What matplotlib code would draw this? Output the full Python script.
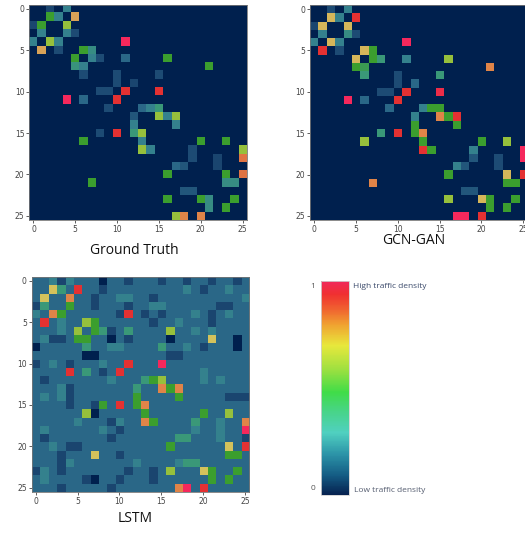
import numpy as np
import matplotlib as mpl
import matplotlib.pyplot as plt
from matplotlib.colors import LinearSegmentedColormap, Normalize

n = 26
titles = ['Ground Truth', 'GCN-GAN', 'LSTM']
ticks = [0, 5, 10, 15, 20, 25]

# (row, col, value) of the non-zero cells
gt_cells = [
    (0, 2, .1), (0, 4, .3),
    (1, 2, .5), (1, 3, .3), (1, 5, .75),
    (2, 0, .1), (2, 1, .5), (2, 4, .6),
    (3, 1, .3), (3, 4, .3), (3, 5, .12),
    (4, 0, .3), (4, 2, .6), (4, 3, .3), (4, 11, 1.0),
    (5, 1, .75), (5, 3, .12), (5, 6, .5), (5, 7, .35),
    (6, 5, .5), (6, 7, .3), (6, 8, .12), (6, 11, .2), (6, 16, .5),
    (7, 5, .38), (7, 6, .3), (7, 21, .5),
    (8, 6, .12), (8, 10, .12), (8, 15, .12),
    (9, 10, .12), (9, 12, .1),
    (10, 8, .12), (10, 9, .12), (10, 11, .9), (10, 15, .9),
    (11, 4, 1.0), (11, 6, .2), (11, 10, .9),
    (12, 9, .12), (12, 13, .2), (12, 14, .3), (12, 15, .4),
    (13, 12, .15), (13, 15, .6), (13, 16, .3), (13, 17, .6),
    (14, 12, .3), (14, 17, .3),
    (15, 8, .12), (15, 10, .9), (15, 12, .4), (15, 13, .6),
    (16, 6, .5), (16, 13, .3), (16, 20, .5), (16, 23, .5),
    (17, 13, .6), (17, 14, .3), (17, 19, .12), (17, 25, .6),
    (18, 19, .12), (18, 22, .1), (18, 25, .82),
    (19, 17, .2), (19, 18, .15), (19, 22, .1),
    (20, 16, .5), (20, 23, .5), (20, 25, .82),
    (21, 7, .5), (21, 23, .35), (21, 24, .35),
    (22, 18, .15), (22, 19, .15),
    (23, 16, .5), (23, 20, .5), (23, 21, .35), (23, 24, .5),
    (24, 21, .35), (24, 23, .5),
    (25, 17, .6), (25, 18, .8), (25, 20, .8),
]

gcn_cells = [
    (0, 2, .12), (0, 4, .3),
    (1, 2, .72), (1, 3, .3), (1, 5, .9),
    (2, 0, .1), (2, 1, .72), (2, 4, .72),
    (3, 1, .3), (3, 4, .35), (3, 5, .12),
    (4, 0, .3), (4, 2, .72), (4, 3, .3), (4, 11, 1.0),
    (5, 1, .9), (5, 3, .12), (5, 6, .72), (5, 7, .5),
    (6, 5, .72), (6, 7, .5), (6, 8, .4), (6, 11, .3), (6, 16, .6),
    (7, 5, .5), (7, 6, .45), (7, 21, .8),
    (8, 6, .4), (8, 10, .12), (8, 15, .4),
    (9, 10, .12), (9, 12, .2),
    (10, 8, .12), (10, 9, .12), (10, 11, .9), (10, 15, .95),
    (11, 4, 1.0), (11, 6, .2), (11, 10, .9),
    (12, 9, .2), (12, 13, .3), (12, 14, .5), (12, 15, .5),
    (13, 12, .3), (13, 15, .8), (13, 16, .5), (13, 17, .9),
    (14, 12, .5), (14, 17, .5),
    (15, 8, .4), (15, 10, .9), (15, 12, .5), (15, 13, .8),
    (16, 6, .6), (16, 13, .5), (16, 20, .5), (16, 23, .6),
    (17, 13, .9), (17, 14, .5), (17, 19, .3), (17, 25, 1.0),
    (18, 19, .15), (18, 22, .12), (18, 25, 1.0),
    (19, 17, .3), (19, 18, .15), (19, 22, .12),
    (20, 16, .5), (20, 23, .72), (20, 25, .9),
    (21, 7, .8), (21, 23, .5), (21, 24, .5),
    (22, 18, .15), (22, 19, .15),
    (23, 16, .6), (23, 20, .72), (23, 21, .5), (23, 24, .5),
    (24, 21, .5), (24, 23, .5),
    (25, 17, 1.0), (25, 18, 1.0), (25, 20, .9),
]

# LSTM output, one char per cell, level 0..a -> 0..1
lstm_rows = [
    '22313222022122212212212212',
    '22742922122222222232122322',
    '27228221223322122222222223',
    '14225221222122332222221122',
    '32852222221921212223212322',
    '29232265222222122322212222',
    '22232625412422226223232222',
    '23112552202122220222272202',
    '02222242233222242232122202',
    '22222200222222221122222222',
    '123212223229222a2222222222',
    '22229242129222222222322222',
    '21222222232224562222323222',
    '22231222222242285822222222',
    '23231222222252222522222111',
    '22221221529258222222222222',
    '22222260222225222222522622',
    '22222322213228522224223228',
    '2322222232122222222322322a',
    '21222222212222222442223221',
    '22321122222222225222222729',
    '22212227221222222222222552',
    '22213222222232222344222222',
    '13212222222122126222752252',
    '23222210221222122222252522',
    '222122222122222228a2922222',
]


def to_grid(cells):
    m = np.zeros((n, n))
    for r, c, v in cells:
        m[r, c] = v
    return m


gt = to_grid(gt_cells)
gcn = to_grid(gcn_cells)
lstm = np.array([[int(ch, 11) / 10 for ch in row] for row in lstm_rows])

heat_cmap = LinearSegmentedColormap.from_list('heat', [
    (0.0, '#00204e'), (0.1, '#1b4670'), (0.2, '#2a6787'), (0.3, '#35828e'),
    (0.4, '#3a9878'), (0.5, '#3a9e2e'), (0.6, '#96c03c'), (0.7, '#d4c45c'),
    (0.75, '#d8a458'), (0.8, '#e08448'), (0.9, '#e43232'), (1.0, '#f5285c')])

bar_cmap = LinearSegmentedColormap.from_list('bar', [
    (0.0, '#062250'), (0.09, '#145c84'), (0.19, '#2c94a8'), (0.29, '#50d0c0'),
    (0.39, '#48d488'), (0.48, '#40dc48'), (0.59, '#a0e040'), (0.70, '#e8e83c'),
    (0.80, '#f0a030'), (0.86, '#f06a30'), (0.94, '#f03030'), (1.0, '#f0285a')])

W, H = 525, 537


def box(x0, y0, x1, y1):
    return [x0 / W, 1 - y1 / H, (x1 - x0) / W, (y1 - y0) / H]


fig = plt.figure(figsize=(W / 100, H / 100), dpi=100)

panels = [
    (gt, box(29.3, 4.7, 246.7, 220), (134, 251)),
    (gcn, box(310, 5, 527.4, 220), (414, 240)),
    (lstm, box(31.7, 276.7, 249, 491.7), (135, 519)),
]
for (m, pos, tpos), title in zip(panels, titles):
    ax = fig.add_axes(pos)
    ax.imshow(m, cmap=heat_cmap, vmin=0, vmax=1, aspect='auto',
              interpolation='nearest')
    ax.set_xticks(ticks)
    ax.set_yticks(ticks)
    ax.tick_params(labelsize=5.5, length=2, width=0.6, pad=1.5,
                   colors='#444')
    for s in ax.spines.values():
        s.set_color('#777')
        s.set_linewidth(0.6)
    fig.text(tpos[0] / W, 1 - tpos[1] / H, title, ha='center', va='center',
             fontsize=10, family='Open Sans', color='#111')

cax = fig.add_axes(box(320.7, 281.3, 348.7, 494.7))
cb = fig.colorbar(mpl.cm.ScalarMappable(norm=Normalize(0, 1), cmap=bar_cmap),
                  cax=cax)
cb.set_ticks([])
cb.outline.set_edgecolor('#d0d0d0')
cb.outline.set_linewidth(0.6)

fig.text(313 / W, 1 - 287 / H, '1', ha='center', va='center', fontsize=6,
         family='Open Sans', color='#555')
fig.text(313 / W, 1 - 488 / H, '0', ha='center', va='center', fontsize=6,
         family='Open Sans', color='#555')
fig.text(353 / W, 1 - 286 / H, 'High traffic density', ha='left',
         va='center', fontsize=6, family='Open Sans', color='#3b4a6b')
fig.text(354 / W, 1 - 490 / H, 'Low traffic density', ha='left',
         va='center', fontsize=6, family='Open Sans', color='#555d70')

fig.savefig('out.png', dpi=100)
